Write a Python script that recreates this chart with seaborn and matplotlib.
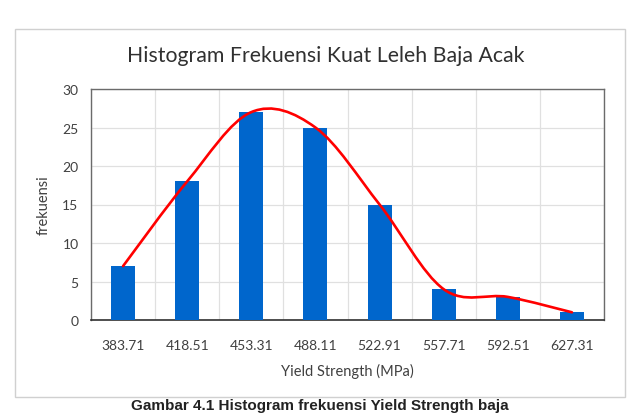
import numpy as np
import matplotlib
matplotlib.use("Agg")
import matplotlib.pyplot as plt
from matplotlib.path import Path
from matplotlib.patches import PathPatch, Rectangle
import seaborn as sns
import pandas as pd

# data
bins = ["383.71", "418.51", "453.31", "488.11", "522.91", "557.71", "592.51", "627.31"]
freq = [7, 18, 27, 25, 15, 4, 3, 1]

TITLE = "Histogram Frekuensi Kuat Leleh Baja Acak"
XLABEL = "Yield Strength (MPa)"
YLABEL = "frekuensi"
CAPTION = "Gambar 4.1 Histogram frekuensi Yield Strength baja"

sns.set_theme(style="white")
plt.rcParams["font.family"] = ["Lato", "DejaVu Sans"]

df = pd.DataFrame({"bin": bins, "freq": freq})

fig = plt.figure(figsize=(6.41, 4.14), dpi=100)
fig.patch.set_facecolor("white")

# outer chart border (Excel style)
fig.patches.append(Rectangle((15 / 641, 1 - 398 / 414), 610 / 641, 368 / 414,
                             transform=fig.transFigure, fill=False,
                             edgecolor="#d0d0d0", linewidth=1.0))

ax = fig.add_axes([91 / 641, 1 - 321 / 414, 513 / 641, 231 / 414])
sns.barplot(data=df, x="bin", y="freq", color="#0066cc", saturation=1,
            width=0.375, linewidth=0, edgecolor="none", ax=ax, zorder=3)

# smooth line through bar tops (Excel "smoothed line" style bezier)
pts = np.column_stack([np.arange(len(freq)), np.array(freq, dtype=float)])
verts = [tuple(pts[0])]
codes = [Path.MOVETO]
n = len(pts)
for i in range(n - 1):
    p_prev = pts[max(i - 1, 0)]
    p0, p1 = pts[i], pts[i + 1]
    p_next = pts[min(i + 2, n - 1)]
    c1 = p0 + (p1 - p_prev) / 6
    c2 = p1 - (p_next - p0) / 6
    verts += [tuple(c1), tuple(c2), tuple(p1)]
    codes += [Path.CURVE4] * 3
ax.add_patch(PathPatch(Path(verts, codes), fill=False, edgecolor="#ff0000",
                       linewidth=1.9, zorder=4, capstyle="round"))

ax.set_xlim(-0.5, len(bins) - 0.5)
ax.set_ylim(0, 30)
ax.set_yticks(range(0, 31, 5))
ax.set_xticks(np.arange(-0.5, len(bins), 1), minor=True)
ax.grid(True, axis="y", color="#e0e0e0", linewidth=0.9, zorder=0)
ax.grid(True, axis="x", which="minor", color="#e0e0e0", linewidth=0.9, zorder=0)
ax.grid(False, axis="x", which="major")
ax.set_axisbelow(True)

for side in ["left", "top", "right"]:
    ax.spines[side].set_color("#6b6b6b")
    ax.spines[side].set_linewidth(1.0)
ax.spines["bottom"].set_color("#303030")
ax.spines["bottom"].set_linewidth(1.2)

ax.tick_params(axis="both", which="both", length=0, labelsize=10,
               colors="#404040")
ax.tick_params(axis="x", pad=14)
ax.tick_params(axis="y", pad=9)
ax.set_xlabel(XLABEL, fontsize=10.5, color="#404040", labelpad=8)
ax.set_ylabel(YLABEL, fontsize=10.5, color="#404040", labelpad=8)

fig.text(326 / 641, 1 - 56 / 414, TITLE, ha="center", va="center",
         fontsize=15.3, color="#303030")

# caption below chart
fig.text(320 / 641, 1 - 413 / 414, CAPTION, ha="center", va="bottom",
         fontsize=11, fontweight="bold", color="#222222",
         family=["Liberation Sans", "DejaVu Sans"])

fig.savefig("out.png", dpi=100)
